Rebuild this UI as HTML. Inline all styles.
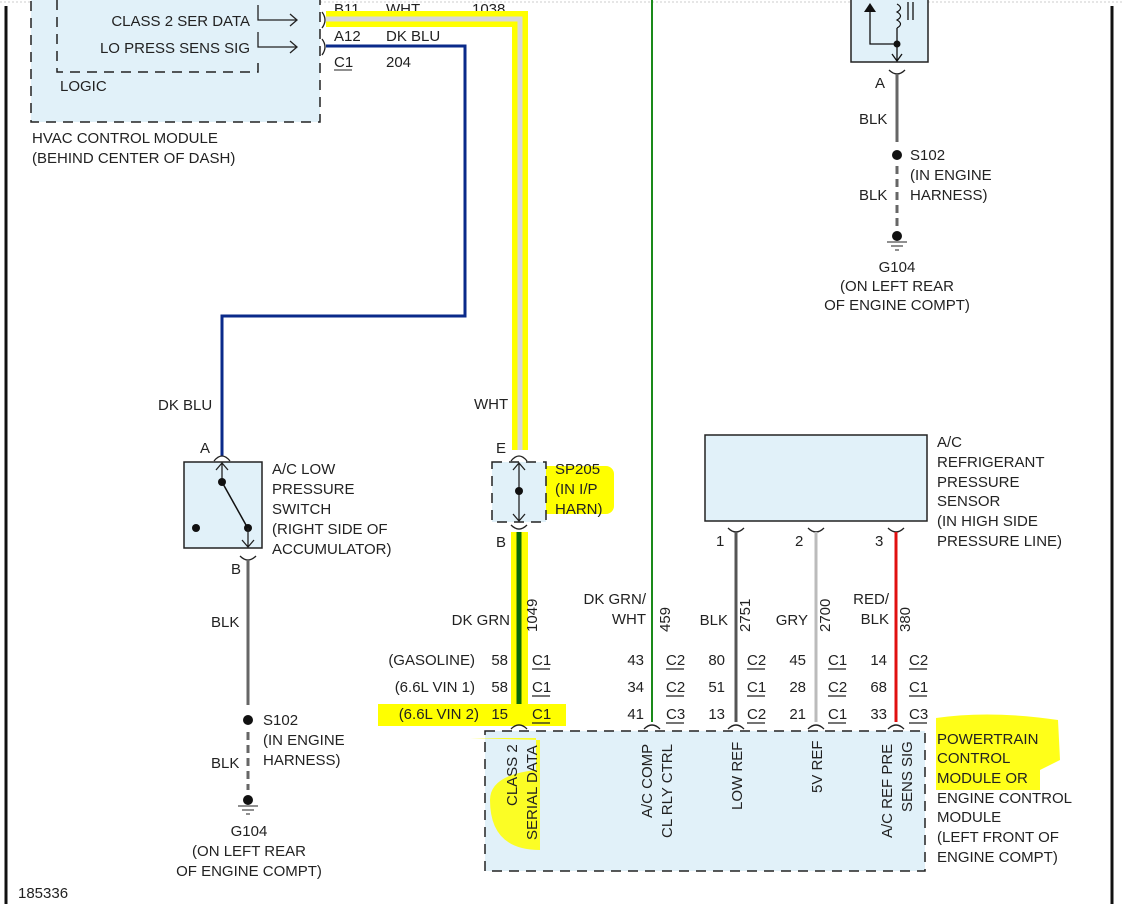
<!DOCTYPE html>
<html><head><style>
body{margin:0;background:#fff}
svg{display:block}
text{font-family:"Liberation Sans",sans-serif;font-size:15px;fill:#222}
</style></head><body>
<svg width="1122" height="904" viewBox="0 0 1122 904">
<line x1="0" y1="2" x2="1122" y2="2" stroke="#ccc" stroke-dasharray="2,2"/>
<line x1="6" y1="6" x2="6" y2="904" stroke="#111" stroke-width="3"/>
<line x1="1112" y1="6" x2="1112" y2="904" stroke="#111" stroke-width="3"/>

<!-- HVAC box -->
<rect x="31" y="-5" width="289" height="127" fill="#e1f1f9" stroke="#222" stroke-dasharray="10,7" stroke-width="1.5"/>
<path d="M57 0 V72 H258 V58" fill="none" stroke="#222" stroke-dasharray="10,7" stroke-width="1.5"/>
<text x="250" y="26" text-anchor="end">CLASS 2 SER DATA</text>
<text x="250" y="53" text-anchor="end">LO PRESS SENS SIG</text>
<text x="60" y="91">LOGIC</text>
<path d="M258 5 V20 H297 M258 32 V47 H297" fill="none" stroke="#222" stroke-width="1.3"/>
<path d="M290 14 L297 20 L290 26 M290 41 L297 47 L290 53" fill="none" stroke="#222" stroke-width="1.3"/>
<path d="M322 12 Q328 20 322 28 M322 39 Q328 47 322 55" fill="none" stroke="#222" stroke-width="1.3"/>
<text x="32" y="143">HVAC CONTROL MODULE</text>
<text x="32" y="163">(BEHIND CENTER OF DASH)</text>
<text x="334" y="14">B11</text><text x="386" y="14">WHT</text><text x="472" y="14">1038</text>
<text x="334" y="41">A12</text><text x="386" y="41">DK BLU</text>
<text x="334" y="67">C1</text><line x1="334" y1="70" x2="352" y2="70" stroke="#222"/><text x="386" y="67">204</text>

<path d="M326 19 H520 V450" fill="none" stroke="#ffff00" stroke-width="16"/>
<path d="M326 19 H520 V450" fill="none" stroke="#d8d8d8" stroke-width="5"/>
<path d="M326 46 H465 V316 H222 V456" fill="none" stroke="#0a2a8a" stroke-width="3"/>
<line x1="652" y1="0" x2="652" y2="722" stroke="#1a8a1a" stroke-width="2"/>

<text x="158" y="410">DK BLU</text>
<text x="200" y="453">A</text>
<path d="M214 461 Q222 451 230 461" fill="none" stroke="#222" stroke-width="1.3"/>
<rect x="184" y="462" width="78" height="86" fill="#e1f1f9" stroke="#222" stroke-width="1.5"/>
<path d="M222 462 V482 M216 470 L222 463 L228 470" fill="none" stroke="#222" stroke-width="1.3"/>
<circle cx="222" cy="482" r="4" fill="#111"/>
<line x1="222" y1="482" x2="246" y2="525" stroke="#111" stroke-width="1.5"/>
<circle cx="248" cy="528" r="4" fill="#111"/>
<circle cx="196" cy="528" r="4" fill="#111"/>
<path d="M248 528 V547 M242 540 L248 547 L254 540" fill="none" stroke="#222" stroke-width="1.3"/>
<text x="272" y="474">A/C LOW</text><text x="272" y="494">PRESSURE</text><text x="272" y="514">SWITCH</text><text x="272" y="534">(RIGHT SIDE OF</text><text x="272" y="554">ACCUMULATOR)</text>
<text x="231" y="574">B</text>
<path d="M240 556 Q248 564 256 556" fill="none" stroke="#222" stroke-width="1.3"/>
<line x1="248" y1="560" x2="248" y2="705" stroke="#666" stroke-width="3"/>
<text x="211" y="627">BLK</text>
<circle cx="248" cy="720" r="5" fill="#111"/>
<text x="263" y="725">S102</text><text x="263" y="745">(IN ENGINE</text><text x="263" y="765">HARNESS)</text>
<line x1="248" y1="732" x2="248" y2="790" stroke="#666" stroke-width="3" stroke-dasharray="8,5"/>
<text x="211" y="768">BLK</text>
<circle cx="248" cy="800" r="5" fill="#111"/>
<path d="M238 806 H258 M242 810 H254 M246 814 H250" stroke="#222"/>
<text x="249" y="836" text-anchor="middle">G104</text>
<text x="249" y="856" text-anchor="middle">(ON LEFT REAR</text>
<text x="249" y="876" text-anchor="middle">OF ENGINE COMPT)</text>

<text x="474" y="409">WHT</text>
<text x="496" y="453">E</text>
<path d="M511 461 Q519 451 527 461" fill="none" stroke="#222" stroke-width="1.3"/>
<rect x="532" y="466" width="82" height="48" fill="#ffff00" rx="8"/>
<rect x="492" y="462" width="54" height="60" fill="#e1f1f9" stroke="#222" stroke-dasharray="10,7" stroke-width="1.5"/>
<path d="M519 463 V521 M513 470 L519 463 L525 470 M513 514 L519 521 L525 514" fill="none" stroke="#222" stroke-width="1.3"/>
<circle cx="519" cy="491" r="4" fill="#111"/>
<text x="555" y="474">SP205</text><text x="555" y="494">(IN I/P</text><text x="555" y="514">HARN)</text>
<text x="496" y="547">B</text>
<path d="M511 525 Q519 533 527 525" fill="none" stroke="#222" stroke-width="1.3"/>
<rect x="511" y="532" width="17" height="190" fill="#ffff00"/>
<line x1="519" y1="532" x2="519" y2="722" stroke="#0a6a0a" stroke-width="5"/>

<rect x="705" y="435" width="222" height="86" fill="#e1f1f9" stroke="#222" stroke-width="1.5"/>
<text x="937" y="447">A/C</text><text x="937" y="467">REFRIGERANT</text><text x="937" y="487">PRESSURE</text><text x="937" y="506">SENSOR</text><text x="937" y="526">(IN HIGH SIDE</text><text x="937" y="546">PRESSURE LINE)</text>
<path d="M728 528 Q736 536 744 528 M808 528 Q816 536 824 528 M888 528 Q896 536 904 528" fill="none" stroke="#222" stroke-width="1.3"/>
<text x="716" y="546">1</text><text x="795" y="546">2</text><text x="875" y="546">3</text>
<line x1="736" y1="532" x2="736" y2="722" stroke="#555" stroke-width="3"/>
<line x1="816" y1="532" x2="816" y2="722" stroke="#bbb" stroke-width="3"/>
<line x1="896" y1="532" x2="896" y2="722" stroke="#e01010" stroke-width="3"/>

<text x="510" y="625" text-anchor="end">DK GRN</text>
<text x="537" y="632" transform="rotate(-90 537 632)">1049</text>
<text x="646" y="604" text-anchor="end">DK GRN/</text><text x="646" y="624" text-anchor="end">WHT</text>
<text x="670" y="632" transform="rotate(-90 670 632)">459</text>
<text x="728" y="625" text-anchor="end">BLK</text>
<text x="750" y="632" transform="rotate(-90 750 632)">2751</text>
<text x="808" y="625" text-anchor="end">GRY</text>
<text x="830" y="632" transform="rotate(-90 830 632)">2700</text>
<text x="889" y="604" text-anchor="end">RED/</text><text x="889" y="624" text-anchor="end">BLK</text>
<text x="910" y="632" transform="rotate(-90 910 632)">380</text>

<rect x="378" y="704" width="188" height="22" fill="#ffff00"/>
<g>
<text x="475" y="665" text-anchor="end">(GASOLINE)</text>
<text x="475" y="692" text-anchor="end">(6.6L VIN 1)</text>
<text x="479" y="719" text-anchor="end">(6.6L VIN 2)</text>
<text x="508" y="665" text-anchor="end">58</text><text x="508" y="692" text-anchor="end">58</text><text x="508" y="719" text-anchor="end">15</text>
<text x="644" y="665" text-anchor="end">43</text><text x="644" y="692" text-anchor="end">34</text><text x="644" y="719" text-anchor="end">41</text>
<text x="725" y="665" text-anchor="end">80</text><text x="725" y="692" text-anchor="end">51</text><text x="725" y="719" text-anchor="end">13</text>
<text x="806" y="665" text-anchor="end">45</text><text x="806" y="692" text-anchor="end">28</text><text x="806" y="719" text-anchor="end">21</text>
<text x="887" y="665" text-anchor="end">14</text><text x="887" y="692" text-anchor="end">68</text><text x="887" y="719" text-anchor="end">33</text>
</g>
<g>
<text x="532" y="665">C1</text><text x="532" y="692">C1</text><text x="532" y="719">C1</text>
<text x="666" y="665">C2</text><text x="666" y="692">C2</text><text x="666" y="719">C3</text>
<text x="747" y="665">C2</text><text x="747" y="692">C1</text><text x="747" y="719">C2</text>
<text x="828" y="665">C1</text><text x="828" y="692">C2</text><text x="828" y="719">C1</text>
<text x="909" y="665">C2</text><text x="909" y="692">C1</text><text x="909" y="719">C3</text>
</g>
<path d="M532 669h18M532 696h18M532 723h18M666 669h18M666 696h18M666 723h18M747 669h18M747 696h18M747 723h18M828 669h18M828 696h18M828 723h18M909 669h18M909 696h18M909 723h18" stroke="#222" stroke-width="1.2"/>

<rect x="485" y="731" width="440" height="140" fill="#e1f1f9" stroke="#222" stroke-dasharray="10,7" stroke-width="1.5"/>
<path d="M511 729 Q519 721 527 729 M644 729 Q652 721 660 729 M728 729 Q736 721 744 729 M808 729 Q816 721 824 729 M888 729 Q896 721 904 729" fill="none" stroke="#222" stroke-width="1.3"/>
<path d="M470 738 H536 V770 Q490 775 490 800 Q490 850 540 850 V740" fill="#ffff00" opacity="0.85"/>
<text x="517" y="806" transform="rotate(-90 517 806)">CLASS 2</text>
<text x="537" y="840" transform="rotate(-90 537 840)">SERIAL DATA</text>
<text x="652" y="818" transform="rotate(-90 652 818)">A/C COMP</text>
<text x="672" y="838" transform="rotate(-90 672 838)">CL RLY CTRL</text>
<text x="742" y="810" transform="rotate(-90 742 810)">LOW REF</text>
<text x="822" y="793" transform="rotate(-90 822 793)">5V REF</text>
<text x="892" y="838" transform="rotate(-90 892 838)">A/C REF PRE</text>
<text x="912" y="812" transform="rotate(-90 912 812)">SENS SIG</text>
<path d="M936 718 Q990 710 1058 720 L1060 760 L1040 770 L1040 790 L936 790 Z" fill="#ffff00" opacity="0.9"/>
<text x="937" y="744">POWERTRAIN</text><text x="937" y="763">CONTROL</text><text x="937" y="783">MODULE OR</text><text x="937" y="803">ENGINE CONTROL</text><text x="937" y="822">MODULE</text><text x="937" y="842">(LEFT FRONT OF</text><text x="937" y="862">ENGINE COMPT)</text>

<rect x="851" y="-5" width="77" height="67" fill="#e1f1f9" stroke="#222" stroke-width="1.5"/>
<path d="M870 8 V44 H897 M897 44 V60 M892 54 L897 61 L902 54 M897 44 V28" fill="none" stroke="#111" stroke-width="1.3"/>
<path d="M864 12 L870 3 L876 12 Z" fill="#111"/>
<path d="M897 28 Q904 24 897 20 Q904 16 897 12 Q904 8 897 4" fill="none" stroke="#111" stroke-width="1.2"/>
<path d="M908 2 V20 M913 2 V20" stroke="#111" stroke-width="1.3"/>
<circle cx="897" cy="44" r="3.5" fill="#111"/>
<path d="M889 70 Q897 78 905 70" fill="none" stroke="#222" stroke-width="1.3"/>
<text x="875" y="88">A</text>
<line x1="897" y1="74" x2="897" y2="142" stroke="#666" stroke-width="3"/>
<text x="859" y="124">BLK</text>
<circle cx="897" cy="155" r="5" fill="#111"/>
<text x="910" y="160">S102</text><text x="910" y="180">(IN ENGINE</text><text x="910" y="200">HARNESS)</text>
<line x1="897" y1="166" x2="897" y2="226" stroke="#666" stroke-width="3" stroke-dasharray="8,5"/>
<text x="859" y="200">BLK</text>
<circle cx="897" cy="236" r="5" fill="#111"/>
<path d="M887 242 H907 M891 246 H903 M895 250 H899" stroke="#222"/>
<text x="897" y="272" text-anchor="middle">G104</text>
<text x="897" y="291" text-anchor="middle">(ON LEFT REAR</text>
<text x="897" y="310" text-anchor="middle">OF ENGINE COMPT)</text>

<text x="18" y="898">185336</text>
</svg>
</body></html>
